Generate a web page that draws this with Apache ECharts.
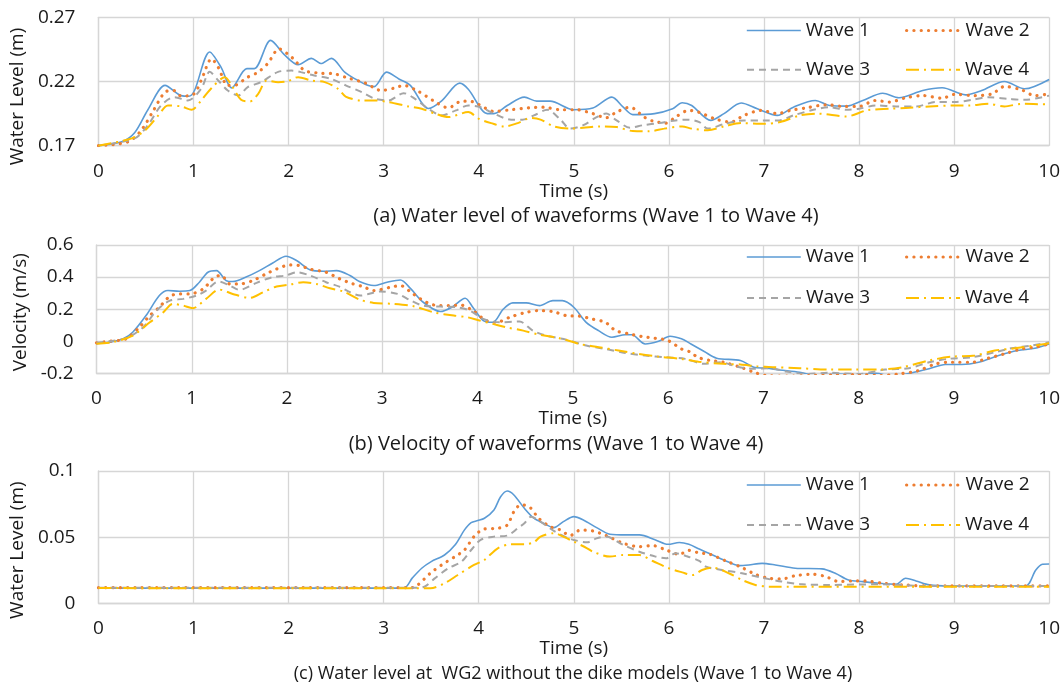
<!DOCTYPE html>
<html><head><meta charset="utf-8">
<script src="https://cdn.jsdelivr.net/npm/echarts@6/dist/echarts.min.js"></script>
<style>html,body{margin:0;padding:0;background:#fff}#c{width:1063px;height:696px}</style>
</head><body><div id="c"></div>
<script>
// ---------- DATA ----------
const seriesNames = ['Wave 1', 'Wave 2', 'Wave 3', 'Wave 4'];
const captions = [
  '(a) Water level of waveforms (Wave 1 to Wave 4)',
  '(b) Velocity of waveforms (Wave 1 to Wave 4)',
  '(c) Water level at  WG2 without the dike models (Wave 1 to Wave 4)'
];
const yNames = ['Water Level (m)', 'Velocity (m/s)', 'Water Level (m)'];
const xName = 'Time (s)';

// Panel (a): water level of waveforms  [time (s), level (m)]
const levelA_w1 = [[0,0.170],[0.245,0.173],[0.38,0.180],[0.52,0.198],[0.70,0.217],[0.87,0.209],[0.95,0.2085],[1.01,0.213],[1.17,0.243],[1.29,0.231],[1.40,0.215],[1.56,0.230],[1.64,0.230],[1.81,0.252],[1.96,0.2405],[2.10,0.233],[2.24,0.238],[2.34,0.234],[2.45,0.238],[2.59,0.2273],[2.70,0.222],[2.83,0.217],[2.90,0.216],[3.03,0.2273],[3.16,0.222],[3.28,0.217],[3.47,0.199],[3.61,0.205],[3.80,0.2187],[3.89,0.214],[4.09,0.195],[4.16,0.195],[4.30,0.2013],[4.48,0.2078],[4.61,0.2047],[4.75,0.2047],[5.0,0.198],[5.2,0.1993],[5.40,0.2078],[5.52,0.200],[5.62,0.1942],[5.85,0.195],[6.04,0.1988],[6.14,0.2034],[6.24,0.2013],[6.44,0.1897],[6.58,0.195],[6.76,0.2032],[6.93,0.1988],[7.14,0.1936],[7.31,0.200],[7.54,0.2052],[7.69,0.2013],[7.87,0.2008],[8.04,0.2052],[8.25,0.2109],[8.42,0.2073],[8.67,0.213],[8.875,0.2151],[9.12,0.2096],[9.29,0.213],[9.53,0.220],[9.74,0.2143],[10,0.2216]];
const levelA_w2 = [[0,0.170],[0.31,0.173],[0.45,0.182],[0.58,0.1977],[0.70,0.2117],[0.79,0.213],[0.87,0.2086],[1.0,0.210],[1.08,0.2208],[1.19,0.2376],[1.26,0.231],[1.36,0.217],[1.43,0.217],[1.56,0.223],[1.68,0.2273],[1.78,0.234],[1.90,0.2454],[1.99,0.2415],[2.06,0.237],[2.17,0.2285],[2.34,0.2265],[2.48,0.226],[2.62,0.2228],[2.81,0.2187],[2.90,0.215],[2.97,0.213],[3.12,0.215],[3.21,0.217],[3.36,0.2125],[3.52,0.2052],[3.68,0.1995],[3.82,0.2047],[3.92,0.2045],[4.0,0.2021],[4.16,0.1967],[4.34,0.198],[4.53,0.1995],[4.68,0.200],[4.86,0.198],[5.03,0.198],[5.20,0.195],[5.34,0.1918],[5.45,0.1962],[5.59,0.200],[5.74,0.1923],[5.83,0.1892],[5.97,0.1876],[6.07,0.1923],[6.21,0.1975],[6.31,0.1962],[6.48,0.191],[6.65,0.1884],[6.79,0.1936],[6.97,0.1975],[7.14,0.195],[7.28,0.1975],[7.45,0.1995],[7.66,0.2019],[7.83,0.2006],[8.0,0.2006],[8.17,0.2052],[8.32,0.204],[8.49,0.2073],[8.67,0.209],[8.875,0.207],[9.01,0.210],[9.22,0.209],[9.40,0.2104],[9.53,0.2161],[9.71,0.2135],[9.85,0.209],[10,0.2104]];
const levelA_w3 = [[0,0.170],[0.38,0.1757],[0.52,0.186],[0.66,0.2015],[0.80,0.2078],[0.94,0.2052],[1.08,0.2143],[1.17,0.2275],[1.26,0.2208],[1.36,0.213],[1.47,0.2091],[1.57,0.2156],[1.71,0.2195],[1.89,0.2275],[2.03,0.2285],[2.13,0.2273],[2.27,0.2247],[2.45,0.222],[2.60,0.217],[2.77,0.2117],[2.91,0.2065],[3.05,0.2052],[3.21,0.2109],[3.33,0.2065],[3.47,0.1988],[3.61,0.1936],[3.76,0.1975],[3.89,0.2013],[4.02,0.200],[4.16,0.195],[4.34,0.1903],[4.46,0.1903],[4.58,0.1936],[4.72,0.198],[4.86,0.1903],[4.96,0.1833],[5.10,0.186],[5.24,0.1923],[5.34,0.195],[5.45,0.1897],[5.59,0.184],[5.73,0.186],[5.90,0.1876],[6.07,0.1897],[6.21,0.1903],[6.32,0.1884],[6.41,0.1833],[6.58,0.1868],[6.79,0.1897],[7.0,0.1897],[7.16,0.1897],[7.31,0.1936],[7.52,0.198],[7.69,0.200],[7.87,0.198],[8.0,0.1988],[8.18,0.2013],[8.39,0.2006],[8.60,0.2006],[8.81,0.204],[9.01,0.204],[9.19,0.2057],[9.36,0.2078],[9.57,0.2065],[9.74,0.2057],[10,0.209]];
const levelA_w4 = [[0,0.170],[0.35,0.1757],[0.49,0.182],[0.63,0.1936],[0.73,0.2013],[0.87,0.2006],[0.98,0.198],[1.08,0.2052],[1.19,0.215],[1.33,0.2234],[1.40,0.217],[1.50,0.2057],[1.59,0.2044],[1.68,0.2104],[1.77,0.2208],[1.89,0.2195],[1.99,0.2203],[2.10,0.2234],[2.24,0.2208],[2.38,0.2195],[2.52,0.2143],[2.60,0.2083],[2.77,0.2052],[2.91,0.2052],[3.05,0.204],[3.26,0.2006],[3.40,0.1988],[3.54,0.195],[3.68,0.1923],[3.89,0.1962],[4.0,0.191],[4.13,0.1876],[4.27,0.185],[4.41,0.1876],[4.55,0.1915],[4.65,0.1903],[4.79,0.185],[4.96,0.1833],[5.10,0.184],[5.27,0.185],[5.45,0.1845],[5.62,0.1814],[5.79,0.1812],[5.95,0.1833],[6.14,0.185],[6.24,0.1833],[6.41,0.182],[6.58,0.185],[6.76,0.1876],[7.0,0.187],[7.17,0.1884],[7.38,0.1936],[7.56,0.195],[7.87,0.1928],[8.08,0.1975],[8.32,0.1988],[8.53,0.1995],[8.74,0.2006],[9.01,0.2013],[9.15,0.2013],[9.36,0.2026],[9.53,0.2006],[9.71,0.2026],[10,0.2021]];

// Panel (b): velocity  [time (s), velocity (m/s)]
const velB_w1 = [[0,-0.015],[0.14,-0.006],[0.28,0.015],[0.38,0.056],[0.52,0.16],[0.66,0.285],[0.75,0.316],[0.87,0.312],[0.98,0.316],[1.08,0.368],[1.17,0.43],[1.26,0.44],[1.36,0.378],[1.43,0.372],[1.57,0.40],[1.71,0.44],[1.85,0.488],[1.99,0.53],[2.10,0.503],[2.24,0.445],[2.38,0.436],[2.52,0.44],[2.66,0.41],[2.76,0.372],[2.91,0.347],[3.05,0.368],[3.19,0.382],[3.30,0.326],[3.43,0.243],[3.61,0.185],[3.73,0.212],[3.87,0.268],[3.95,0.212],[4.06,0.129],[4.16,0.118],[4.27,0.20],[4.37,0.239],[4.51,0.239],[4.65,0.222],[4.79,0.253],[4.89,0.253],[5.01,0.212],[5.14,0.118],[5.27,0.066],[5.41,0.025],[5.55,0.04],[5.62,0.04],[5.76,-0.017],[5.90,0.0],[6.02,0.031],[6.14,0.015],[6.24,-0.017],[6.38,-0.064],[6.51,-0.106],[6.76,-0.12],[6.90,-0.162],[7.03,-0.168],[7.17,-0.179],[7.38,-0.193],[7.56,-0.214],[7.76,-0.204],[8.0,-0.21],[8.18,-0.20],[8.35,-0.218],[8.56,-0.197],[8.74,-0.172],[8.91,-0.145],[9.08,-0.145],[9.26,-0.131],[9.47,-0.089],[9.67,-0.058],[9.85,-0.044],[10,-0.017]];
const velB_w2 = [[0,-0.01],[0.14,0.0],[0.31,0.015],[0.45,0.087],[0.56,0.16],[0.66,0.212],[0.77,0.28],[0.87,0.295],[0.98,0.295],[1.12,0.326],[1.24,0.40],[1.31,0.41],[1.40,0.357],[1.50,0.357],[1.64,0.378],[1.78,0.42],[1.89,0.45],[2.03,0.476],[2.13,0.472],[2.24,0.45],[2.41,0.43],[2.55,0.39],[2.68,0.36],[2.80,0.34],[2.91,0.316],[3.09,0.337],[3.19,0.347],[3.30,0.306],[3.40,0.264],[3.54,0.226],[3.71,0.222],[3.82,0.226],[3.95,0.191],[4.09,0.129],[4.20,0.118],[4.34,0.15],[4.51,0.18],[4.65,0.191],[4.79,0.185],[4.93,0.16],[5.07,0.156],[5.20,0.139],[5.34,0.118],[5.45,0.066],[5.59,0.046],[5.73,0.029],[5.86,0.019],[6.0,0.004],[6.14,-0.048],[6.24,-0.069],[6.31,-0.10],[6.44,-0.12],[6.58,-0.131],[6.76,-0.162],[6.90,-0.193],[7.03,-0.214],[7.28,-0.218],[7.52,-0.214],[7.76,-0.21],[8.0,-0.208],[8.21,-0.214],[8.42,-0.204],[8.63,-0.183],[8.81,-0.141],[8.98,-0.131],[9.19,-0.131],[9.36,-0.106],[9.53,-0.079],[9.71,-0.048],[9.85,-0.037],[10,-0.017]];
const velB_w3 = [[0,-0.01],[0.31,0.019],[0.49,0.087],[0.63,0.191],[0.77,0.253],[0.91,0.264],[1.05,0.285],[1.15,0.316],[1.28,0.372],[1.40,0.347],[1.50,0.32],[1.68,0.364],[1.85,0.40],[1.99,0.41],[2.10,0.43],[2.24,0.41],[2.41,0.368],[2.55,0.34],[2.66,0.306],[2.77,0.285],[2.98,0.31],[3.16,0.295],[3.30,0.253],[3.43,0.222],[3.61,0.216],[3.78,0.212],[3.92,0.191],[4.06,0.139],[4.23,0.118],[4.44,0.123],[4.58,0.066],[4.72,0.035],[4.93,0.01],[5.14,-0.027],[5.34,-0.048],[5.55,-0.073],[5.76,-0.089],[5.97,-0.10],[6.18,-0.11],[6.38,-0.141],[6.55,-0.131],[6.72,-0.158],[6.90,-0.172],[7.07,-0.168],[7.24,-0.189],[7.45,-0.204],[7.69,-0.197],[8.0,-0.204],[8.28,-0.177],[8.53,-0.168],[8.74,-0.131],[8.94,-0.11],[9.19,-0.10],[9.43,-0.069],[9.60,-0.044],[9.81,-0.027],[10,-0.006]];
const velB_w4 = [[0,-0.015],[0.17,-0.006],[0.38,0.035],[0.56,0.118],[0.70,0.18],[0.80,0.233],[0.91,0.222],[1.01,0.206],[1.15,0.264],[1.29,0.322],[1.43,0.295],[1.61,0.27],[1.75,0.306],[1.89,0.341],[2.03,0.353],[2.17,0.368],[2.31,0.357],[2.45,0.33],[2.59,0.31],[2.76,0.26],[2.91,0.239],[3.12,0.233],[3.33,0.218],[3.54,0.18],[3.75,0.16],[3.89,0.15],[4.02,0.129],[4.16,0.108],[4.30,0.087],[4.48,0.066],[4.65,0.04],[4.86,0.019],[5.07,-0.017],[5.27,-0.037],[5.48,-0.058],[5.69,-0.079],[5.90,-0.096],[6.14,-0.11],[6.32,-0.128],[6.58,-0.141],[6.76,-0.145],[6.93,-0.156],[7.10,-0.162],[7.38,-0.168],[7.69,-0.177],[7.97,-0.177],[8.21,-0.177],[8.46,-0.162],[8.74,-0.12],[8.98,-0.096],[9.22,-0.089],[9.43,-0.058],[9.64,-0.044],[9.85,-0.027],[10,-0.012]];

// Panel (c): water level at WG2  [time (s), level (m)]
const levelC_w1 = [[0,0.0115],[3.21,0.0115],[3.30,0.019],[3.40,0.0265],[3.50,0.0315],[3.64,0.0365],[3.75,0.044],[3.85,0.0555],[3.92,0.061],[3.99,0.0625],[4.06,0.0643],[4.16,0.0706],[4.23,0.0806],[4.30,0.0849],[4.37,0.0819],[4.48,0.0718],[4.58,0.0643],[4.68,0.0605],[4.79,0.0572],[4.89,0.0617],[5.0,0.0655],[5.10,0.063],[5.24,0.0572],[5.38,0.0522],[5.55,0.0517],[5.69,0.0517],[5.86,0.0479],[5.99,0.0446],[6.11,0.0459],[6.21,0.0446],[6.32,0.041],[6.42,0.0378],[6.60,0.032],[6.74,0.0285],[6.84,0.029],[6.98,0.0302],[7.12,0.029],[7.33,0.0265],[7.61,0.026],[7.75,0.0227],[7.89,0.0176],[8.04,0.0164],[8.21,0.0151],[8.39,0.0144],[8.49,0.0189],[8.60,0.0169],[8.74,0.0139],[8.95,0.0131],[9.75,0.0131],[9.86,0.0252],[9.93,0.0295],[10,0.0297]];
const levelC_w2 = [[0,0.0118],[3.30,0.0118],[3.36,0.0139],[3.49,0.0227],[3.61,0.029],[3.75,0.0353],[3.85,0.0403],[3.95,0.0504],[4.06,0.0562],[4.20,0.0567],[4.30,0.0592],[4.37,0.0693],[4.44,0.0743],[4.53,0.0731],[4.63,0.0643],[4.75,0.058],[4.86,0.0554],[4.96,0.0512],[5.07,0.0554],[5.20,0.0547],[5.34,0.0512],[5.52,0.0454],[5.69,0.0428],[5.83,0.0436],[5.97,0.0403],[6.11,0.037],[6.21,0.040],[6.32,0.038],[6.42,0.0373],[6.60,0.032],[6.77,0.027],[6.91,0.0219],[7.05,0.0189],[7.19,0.0184],[7.33,0.0209],[7.51,0.0219],[7.65,0.0202],[7.79,0.0164],[7.93,0.0169],[8.07,0.0169],[8.25,0.0151],[8.46,0.0139],[8.74,0.0131],[10,0.0131]];
const levelC_w3 = [[0,0.0118],[3.35,0.0118],[3.43,0.0126],[3.54,0.019],[3.68,0.0265],[3.82,0.0315],[3.92,0.0403],[4.02,0.0479],[4.16,0.0504],[4.30,0.0512],[4.41,0.0567],[4.48,0.0605],[4.55,0.0655],[4.65,0.0617],[4.79,0.0547],[4.93,0.0496],[5.0,0.0479],[5.14,0.0461],[5.24,0.0491],[5.34,0.0504],[5.52,0.0441],[5.69,0.039],[5.86,0.0353],[5.97,0.034],[6.07,0.0378],[6.18,0.0358],[6.32,0.032],[6.39,0.0277],[6.56,0.0252],[6.77,0.0227],[6.98,0.0194],[7.19,0.0164],[7.40,0.0144],[7.68,0.0139],[8.25,0.0144],[8.67,0.0131],[10,0.0131]];
const levelC_w4 = [[0,0.0115],[3.49,0.0113],[3.64,0.0151],[3.78,0.0214],[3.95,0.029],[4.06,0.0328],[4.20,0.0416],[4.34,0.0446],[4.48,0.0446],[4.58,0.0461],[4.65,0.0504],[4.79,0.053],[4.90,0.050],[5.0,0.0466],[5.14,0.0416],[5.20,0.039],[5.38,0.0353],[5.52,0.0365],[5.69,0.0365],[5.83,0.032],[6.0,0.0265],[6.14,0.0234],[6.25,0.0214],[6.35,0.0252],[6.46,0.027],[6.63,0.0227],[6.77,0.0176],[6.91,0.0139],[7.05,0.0126],[10,0.0126]];

const panelData = [
  [levelA_w1, levelA_w2, levelA_w3, levelA_w4],
  [velB_w1, velB_w2, velB_w3, velB_w4],
  [levelC_w1, levelC_w2, levelC_w3, levelC_w4]
];
const yRanges = [[0.17, 0.27, 0.05], [-0.2, 0.6, 0.2], [0, 0.1, 0.05]];

// ---------- STYLE / LAYOUT ----------
const FONT = 'Open Sans';
const TXT = '#1a1a1a';
const GRIDC = '#d6d6d6';
const lineStyles = [
  {color: '#5B9BD5', width: 1.6, type: 'solid', cap: 'butt'},
  {color: '#ED7D31', width: 3.2, type: [0.1, 7.2], cap: 'round'},
  {color: '#A5A5A5', width: 2, type: [7, 5], cap: 'butt'},
  {color: '#FFC000', width: 2, type: [13, 5, 2, 5], cap: 'butt'}
];
const grids = [
  {left: 96.5, width: 953.5, top: 17.3, height: 128.4},
  {left: 96.5, width: 953.5, top: 245, height: 128.3},
  {left: 96.5, width: 953.5, top: 471, height: 132.3}
];
const captionCenters = [596, 556, 573];
const captionSizes = [20, 20, 18];
const yNamePad = [30, 6, 26];
const legendRows = [[19.5, 58.7], [246, 287], [474, 514]];
const legendCols = [746, 905];

const option = {
  animation: false,
  backgroundColor: '#fff',
  textStyle: {fontFamily: FONT},
  grid: grids.map(g => Object.assign({containLabel: false}, g)),
  title: captions.map((t, i) => ({
    text: t,
    left: captionCenters[i],
    textAlign: 'center',
    top: grids[i].top + grids[i].height + 61 + (20 - captionSizes[i]) / 2,
    padding: 0,
    textStyle: {fontFamily: FONT, fontSize: captionSizes[i], fontWeight: 'normal', color: TXT}
  })),
  legend: [],
  xAxis: grids.map((g, i) => ({
    type: 'value', gridIndex: i, min: 0, max: 10, interval: 1,
    name: xName, nameLocation: 'middle', nameGap: 36,
    nameTextStyle: {fontFamily: FONT, fontSize: 19, color: TXT},
    axisLine: {show: true, onZero: false, lineStyle: {color: GRIDC, width: 1.3}},
    axisTick: {show: false},
    splitLine: {show: true, lineStyle: {color: GRIDC, width: 1.3}},
    axisLabel: {margin: 16, fontFamily: FONT, fontSize: 19, color: TXT}
  })),
  yAxis: grids.map((g, i) => ({
    type: 'value', gridIndex: i,
    min: yRanges[i][0], max: yRanges[i][1], interval: yRanges[i][2],
    name: yNames[i], nameLocation: 'middle', nameGap: 63,
    nameTextStyle: {fontFamily: FONT, fontSize: 19, color: TXT, padding: [0, yNamePad[i], 0, 0]},
    axisLine: {show: true, lineStyle: {color: GRIDC, width: 1.3}},
    axisTick: {show: false},
    splitLine: {show: true, lineStyle: {color: GRIDC, width: 1.3}},
    axisLabel: {
      margin: 23, fontFamily: FONT, fontSize: 19, color: TXT,
      formatter: v => i === 0 ? v.toFixed(2) : String(parseFloat(v.toFixed(2)))
    }
  })),
  series: []
};

panelData.forEach((set, p) => {
  set.forEach((data, s) => {
    option.series.push({
      type: 'line', name: seriesNames[s], xAxisIndex: p, yAxisIndex: p,
      data: data, symbol: 'none', showSymbol: false, smooth: 0.3,
      lineStyle: Object.assign({}, lineStyles[s]),
      itemStyle: {color: lineStyles[s].color},
      emphasis: {disabled: true}, silent: true
    });
  });
  seriesNames.forEach((nm, s) => {
    option.legend.push({
      data: [nm], selectedMode: false,
      left: legendCols[s % 2], top: legendRows[p][Math.floor(s / 2)],
      padding: 0, itemWidth: 54, itemHeight: 14,
      lineStyle: Object.assign({}, lineStyles[s]),
      itemStyle: {color: 'rgba(0,0,0,0)', borderWidth: 0, opacity: 0},
      textStyle: {fontFamily: FONT, fontSize: 19, color: TXT, lineHeight: 22}
    });
  });
});

const chart = echarts.init(document.getElementById('c'), null, {renderer: 'canvas'});
chart.setOption(option);
</script>
</body></html>
